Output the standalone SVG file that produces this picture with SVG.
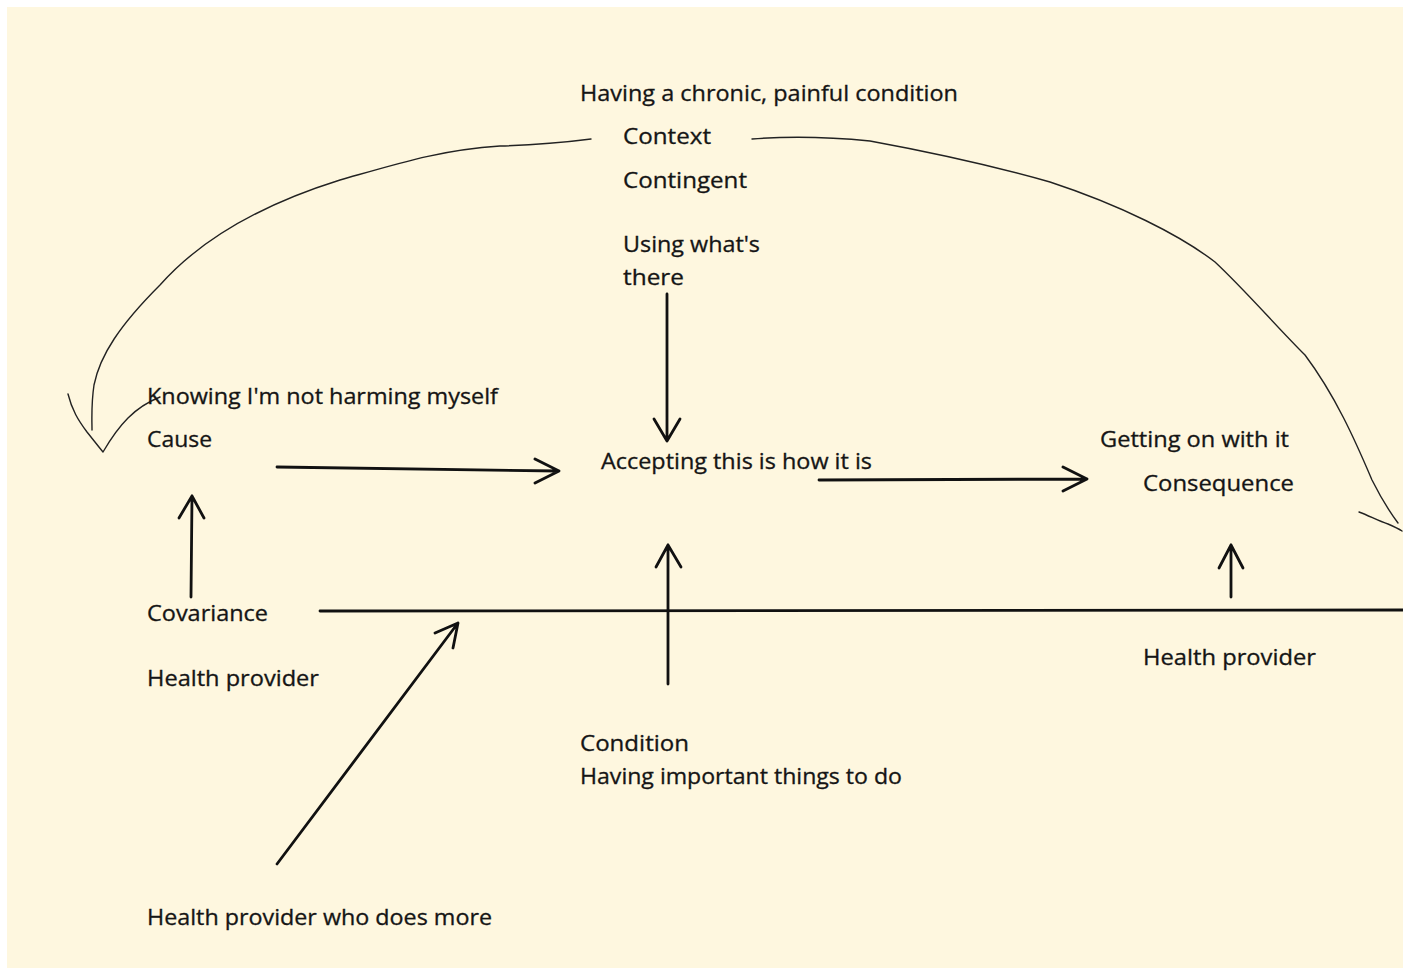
<svg xmlns="http://www.w3.org/2000/svg" width="1403" height="969" viewBox="0 0 1403 969">
  <style>
    .lbl { font-family: "Open Sans", "Noto Sans", "Liberation Sans", sans-serif; font-size: 21px; fill: #151515; stroke: #151515; stroke-width: 0.3; }
    .arrow { fill: none; stroke: #111; stroke-width: 2.8; stroke-linecap: round; stroke-linejoin: round; }
    .sketch { fill: none; stroke: #222; stroke-width: 1.4; stroke-linecap: round; stroke-linejoin: round; }
  </style>
  <rect x="0" y="0" width="1403" height="969" fill="#ffffff"/>
  <rect x="7" y="7" width="1396" height="961" fill="#fef7df"/>

  <g id="connectors">
    <!-- hand-drawn arc from context to cause -->
    <path class="sketch" d="M591,139 C560,143 540,145 500,146 C440,150 400,163 340,180 C260,205 200,240 160,285 C120,325 100,355 94,385 C91,405 92,420 92,430"/>
    <path class="sketch" d="M68,394 C72,410 78,420 87,432 C95,442 98,446 103,452 C110,440 118,428 128,418 C138,408 150,401 160,397"/>
    <!-- hand-drawn arc from context to consequence -->
    <path class="sketch" d="M752,139 C790,136 830,137 870,141 C930,152 990,165 1050,182 C1120,205 1180,235 1215,262 C1245,290 1275,325 1305,355 C1335,395 1355,440 1372,480 C1382,500 1392,515 1398,523"/>
    <path class="sketch" d="M1359,512 C1370,516 1378,521 1388,524 C1395,527 1399,529 1402,531"/>

    <!-- using what's there -> accepting -->
    <path class="arrow" d="M667,294 L667,441 M654,419 L667,441 L680,419"/>
    <!-- cause -> accepting -->
    <path class="arrow" d="M277,467 L559,471 M535,459 L559,471 L535,483"/>
    <!-- accepting -> getting on with it -->
    <path class="arrow" d="M819,480 L1087,479 M1063,467 L1087,479 L1063,491"/>
    <!-- covariance -> cause -->
    <path class="arrow" d="M191,597 L192,496 M179,518 L192,496 L204,518"/>
    <!-- health provider baseline -->
    <path class="arrow" d="M320,611 L1403,610"/>
    <!-- health provider who does more -> baseline -->
    <path class="arrow" d="M277,864 L458,623 M435,633 L458,623 L453,648"/>
    <!-- condition -> accepting -->
    <path class="arrow" d="M668,684 L668,545 M656,567 L668,545 L681,567"/>
    <!-- health provider -> consequence -->
    <path class="arrow" d="M1231,597 L1231,545 M1219,568 L1231,545 L1243,568"/>
  </g>

  <g id="context">
    <text class="lbl" x="580" y="101" textLength="378" lengthAdjust="spacingAndGlyphs">Having a chronic, painful condition</text>
    <text class="lbl" x="623" y="144" textLength="88" lengthAdjust="spacingAndGlyphs">Context</text>
    <text class="lbl" x="623" y="188" textLength="124" lengthAdjust="spacingAndGlyphs">Contingent</text>
  </g>
  <g id="using">
    <text class="lbl" x="623" y="252" textLength="137" lengthAdjust="spacingAndGlyphs">Using what's</text>
    <text class="lbl" x="623" y="285" textLength="61" lengthAdjust="spacingAndGlyphs">there</text>
  </g>
  <g id="cause">
    <text class="lbl" x="147" y="404" textLength="351" lengthAdjust="spacingAndGlyphs">Knowing I'm not harming myself</text>
    <text class="lbl" x="147" y="447" textLength="65" lengthAdjust="spacingAndGlyphs">Cause</text>
  </g>
  <g id="accepting">
    <text class="lbl" x="601" y="469" textLength="271" lengthAdjust="spacingAndGlyphs">Accepting this is how it is</text>
  </g>
  <g id="consequence">
    <text class="lbl" x="1100" y="447" textLength="189" lengthAdjust="spacingAndGlyphs">Getting on with it</text>
    <text class="lbl" x="1143" y="491" textLength="151" lengthAdjust="spacingAndGlyphs">Consequence</text>
  </g>
  <g id="covariance">
    <text class="lbl" x="147" y="621" textLength="121" lengthAdjust="spacingAndGlyphs">Covariance</text>
    <text class="lbl" x="147" y="686" textLength="172" lengthAdjust="spacingAndGlyphs">Health provider</text>
  </g>
  <g id="provider-right">
    <text class="lbl" x="1143" y="665" textLength="173" lengthAdjust="spacingAndGlyphs">Health provider</text>
  </g>
  <g id="condition">
    <text class="lbl" x="580" y="751" textLength="109" lengthAdjust="spacingAndGlyphs">Condition</text>
    <text class="lbl" x="580" y="784" textLength="322" lengthAdjust="spacingAndGlyphs">Having important things to do</text>
  </g>
  <g id="provider-more">
    <text class="lbl" x="147" y="925" textLength="345" lengthAdjust="spacingAndGlyphs">Health provider who does more</text>
  </g>
</svg>
